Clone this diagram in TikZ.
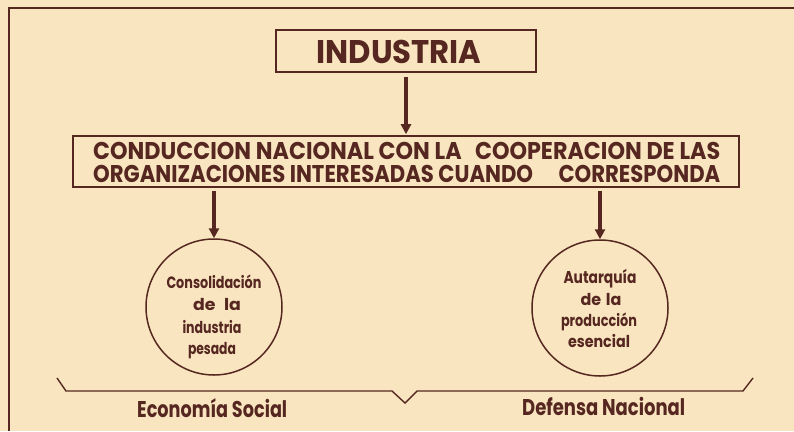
\documentclass[tikz,border=0pt]{standalone}
\usepackage{fontspec}
\setmainfont{Poppins}
\usetikzlibrary{arrows.meta,calc}
\definecolor{paper}{RGB}{249,230,192}
\definecolor{ink}{RGB}{86,38,32}
\newcommand\fitt[3]{\resizebox{#1}{#2}{\bfseries\smash{#3}\vphantom{X}}}
\tikzset{
  txt/.style={inner sep=0pt, text=ink, anchor=base},
  boxst/.style={draw=ink, line width=1.6pt, inner sep=0pt},
  circst/.style={draw=ink, line width=1.5pt, circle, inner sep=0pt, minimum size=136pt},
  arr/.style={draw=ink, line width=3.5pt, -{Triangle[length=10pt,width=10pt]}},
  lin/.style={draw=ink, line width=1.4pt}
}
\begin{document}
\begin{tikzpicture}[x=1pt,y=-1pt]
\fill[paper] (0,0) rectangle (794,431);
\useasboundingbox (0,0) rectangle (794,431);
% frame
\coordinate (f1) at (9,431);
\coordinate (f2) at (9,8);
\coordinate (f3) at (794,8);
\draw[lin, line width=1.2pt] (f1) -- (f2) -- (f3);
% boxes
\node[boxst, minimum width=260pt, minimum height=42pt] (ind) at (406,51) {};
\node[boxst, minimum width=666pt, minimum height=51pt] (cond) at (406,161.5) {};
\node[txt] (tind) at (399,63) {\fitt{165pt}{23pt}{INDUSTRIA}};
\node[txt, anchor=base west] (l1) at (93,159) {\fitt{627pt}{17pt}{CONDUCCION NACIONAL CON LA\hspace{0.6em}COOPERACION DE LAS}};
\node[txt, anchor=base west] (l2) at (93,182) {\fitt{627pt}{17pt}{ORGANIZACIONES INTERESADAS CUANDO\hspace{1.2em}CORRESPONDA}};
% circles
\node[circst] (c1) at (214,307) {};
\node[circst] (c2) at (600,308) {};
\node[txt] (a1) at (214,288) {\fitt{95pt}{11.5pt}{Consolidaci\'on}};
\node[txt] (a2) at (217,310) {\fitt{48pt}{11.5pt}{de\hspace{0.5em}la}};
\node[txt] (a3) at (212,333) {\fitt{59pt}{11.5pt}{industria}};
\node[txt] (a4) at (212,354) {\fitt{48pt}{11.5pt}{pesada}};
\node[txt] (b1) at (600,283) {\fitt{73pt}{12pt}{Autarqu\'ia}};
\node[txt] (b2) at (601,305) {\fitt{41pt}{11.5pt}{de\hspace{0.3em}la}};
\node[txt] (b3) at (599,326) {\fitt{76pt}{11.5pt}{producci\'on}};
\node[txt] (b4) at (599,347) {\fitt{62pt}{11.5pt}{esencial}};
% arrows
\draw[arr] ([yshift=-4pt]ind.south) -- ([yshift=1pt]cond.north);
\draw[arr] ([yshift=-3pt]cond.south -| c1.north) -- (c1.north);
\draw[arr] ([yshift=-3pt]cond.south -| c2.north) -- (c2.north);
% brace
\coordinate (k1) at (57,378);
\coordinate (k2) at (66,391);
\coordinate (k3) at (392,391);
\coordinate (k4) at (405,403);
\coordinate (k5) at (417,391);
\coordinate (k6) at (743,391);
\coordinate (k7) at (753,378);
\draw[lin, line join=miter] (k1) -- (k2) -- (k3) -- (k4) -- (k5) -- (k6) -- (k7);
\node[txt, anchor=base west] (e1) at (137,417) {\fitt{150pt}{16pt}{Econom\'ia Social}};
\node[txt, anchor=base west] (e2) at (522,415) {\fitt{163pt}{16pt}{Defensa Nacional}};
\end{tikzpicture}
\end{document}
